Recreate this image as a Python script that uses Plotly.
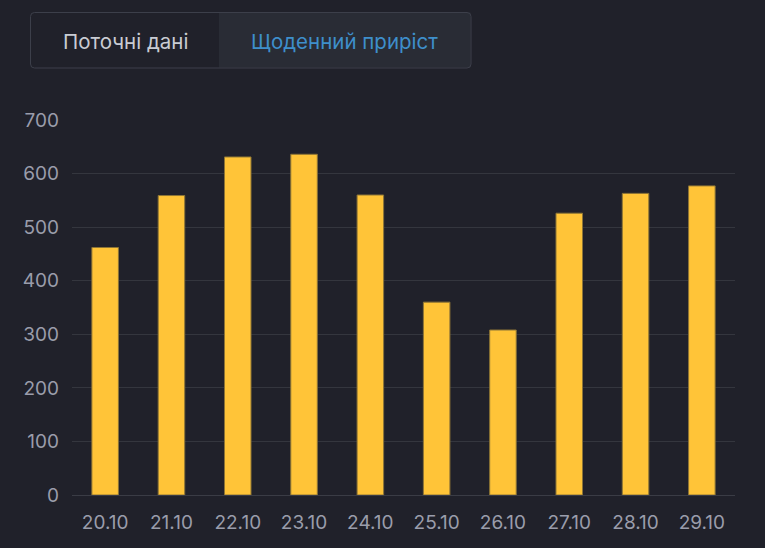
import plotly.graph_objects as go

dates = ["20.10", "21.10", "22.10", "23.10", "24.10", "25.10", "26.10", "27.10", "28.10", "29.10"]
daily_growth = [462, 559, 631, 636, 560, 360, 308, 526, 563, 577]
y_ticks = [0, 100, 200, 300, 400, 500, 600, 700]

W, H = 765, 548
L, R, T, B = 72, 30, 120, 53
PW = W - L - R
PH = H - T - B

def px(x):
    return (x - L) / PW

def py(y):
    return (H - B - y) / PH

BG = "#20212a"

fig = go.Figure()
fig.add_trace(go.Bar(
    x=dates, y=daily_growth,
    marker=dict(color="#ffc438", line=dict(color="#8c7436", width=1)),
    hoverinfo="x+y",
))

def rrect(x0, y0, x1, y1, r):
    rx = r / PW
    ry = r / PH
    a, b, c, d = px(x0), py(y1), px(x1), py(y0)
    return (f"M {a+rx},{d} L {c-rx},{d} Q {c},{d} {c},{d-ry} L {c},{b+ry} "
            f"Q {c},{b} {c-rx},{b} L {a+rx},{b} Q {a},{b} {a},{b+ry} L {a},{d-ry} Q {a},{d} {a+rx},{d} Z")

shapes = [
    dict(type="rect", xref="paper", yref="paper", x0=px(219), x1=px(470.5), y0=py(67.5), y1=py(12.5),
         fillcolor="#292c35", line=dict(width=0), layer="below"),
    dict(type="path", xref="paper", yref="paper", path=rrect(30.5, 12.5, 471, 68, 4),
         fillcolor="rgba(0,0,0,0)", line=dict(color="#3c3f4a", width=1)),
]

annotations = [
    dict(text="Поточні дані", xref="paper", yref="paper", x=px(125), y=py(41), showarrow=False,
         xanchor="center", yanchor="middle", font=dict(family="Inter", size=20.5, color="#c9ccd3")),
    dict(text="Щоденний приріст", xref="paper", yref="paper", x=px(344.5), y=py(41), showarrow=False,
         xanchor="center", yanchor="middle", font=dict(family="Inter", size=20.5, color="#3e8fcb")),
]

fig.update_layout(
    width=W, height=H,
    margin=dict(l=L, r=R, t=T, b=B),
    paper_bgcolor=BG, plot_bgcolor=BG,
    bargap=0.6,
    showlegend=False,
    shapes=shapes,
    annotations=annotations,
    font=dict(family="Inter", size=19, color="#9a9dab"),
    xaxis=dict(showgrid=False, showline=True, linecolor="#3a3c45", linewidth=1,
               ticks="", tickfont=dict(size=19, color="#9a9dab"), ticklabelstandoff=10),
    yaxis=dict(range=[0, 700], tickvals=y_ticks, showgrid=True, gridcolor="#34363e", gridwidth=1,
               zeroline=False, showline=False, ticks="", tickfont=dict(size=19, color="#9a9dab"),
               ticklabelstandoff=12),
)

fig.write_html("out.html", config={"displayModeBar": False},
               post_script="document.body.style.margin='0';document.body.style.background='%s';" % BG)
